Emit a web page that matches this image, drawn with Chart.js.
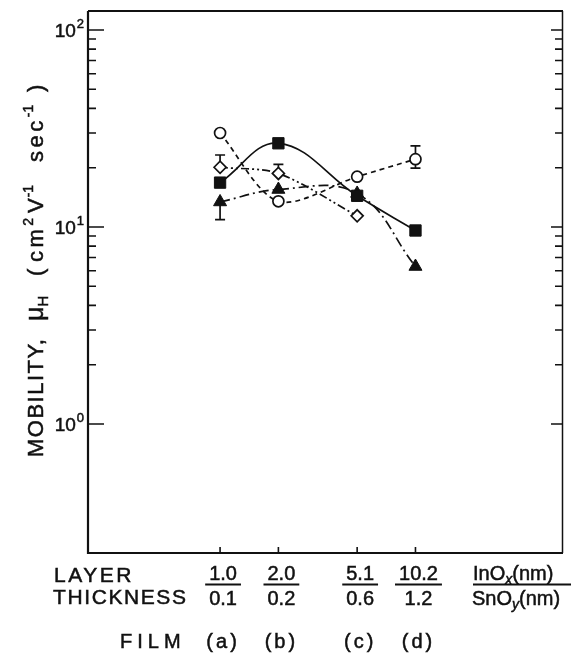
<!DOCTYPE html>
<html>
<head>
<meta charset="utf-8">
<script src="https://cdn.jsdelivr.net/npm/chart.js@4.4.1/dist/chart.umd.min.js"></script>
<style>
  html, body { margin: 0; padding: 0; background: #fff; }
  canvas { display: block; }
</style>
</head>
<body>
<canvas id="mobilityChart" width="572" height="653"></canvas>
<script>
// Layer thickness of the films (a)-(d), InOx over SnOy in nm
const inoxThickness = [1.0, 2.0, 5.1, 10.2];
const inoxLabels = ['1.0', '2.0', '5.1', '10.2'];
const snoyLabels = ['0.1', '0.2', '0.6', '1.2'];
const filmLabels = ['(a)', '(b)', '(c)', '(d)'];

// Hall mobility, cm2 V-1 sec-1
const circleMobility = [30.0, 13.5, 18.0, 22.1];
const diamondMobility = [20.1, 18.7, 11.4];
const squareMobility = [16.8, 26.6, 14.4, 9.6];
const triangleMobility = [13.4, 15.5, 14.8, 6.3];

// Error bar ends (null = not drawn)
const circleErrLow = [null, null, null, 19.9];
const circleErrHigh = [null, null, null, 25.8];
const diamondErrLow = [null, null, null];
const diamondErrHigh = [23.2, 20.8, null];
const triangleErrLow = [10.9, null, null, null];
const triangleErrHigh = [null, null, null, null];

const FONT = "'Liberation Sans', Arial, sans-serif";
const INK = '#111';

function points(values) {
    return values.map((v, i) => ({ x: inoxThickness[i], y: v }));
}

// Vertical error bars with caps, drawn under the markers
const errorBars = {
    id: 'errorBars',
    beforeDatasetsDraw(chart) {
        const { ctx, scales: { x, y } } = chart;
        ctx.save();
        ctx.strokeStyle = INK;
        ctx.lineWidth = 1.7;
        chart.data.datasets.forEach(ds => {
            if (!ds.errLow) return;
            ds.data.forEach((p, i) => {
                const lo = ds.errLow[i], hi = ds.errHigh[i];
                if (lo == null && hi == null) return;
                const px = x.getPixelForValue(p.x);
                const y1 = y.getPixelForValue(lo == null ? p.y : lo);
                const y2 = y.getPixelForValue(hi == null ? p.y : hi);
                ctx.beginPath();
                ctx.moveTo(px, y1); ctx.lineTo(px, y2);
                if (lo != null) { ctx.moveTo(px - 5, y1); ctx.lineTo(px + 5, y1); }
                if (hi != null) { ctx.moveTo(px - 5, y2); ctx.lineTo(px + 5, y2); }
                ctx.stroke();
            });
        });
        ctx.restore();
    }
};

// filled text with a thin stroke, the scan is heavier than regular weight
function inkText(ctx, t, x, y) {
    ctx.fillText(t, x, y);
    ctx.strokeText(t, x, y);
}

// draw a run of text pieces left to right, returns end x
function drawRun(ctx, x0, base, pieces) {
    let cx = x0;
    pieces.forEach(p => {
        ctx.font = (p.style || '') + ' ' + p.size + 'px ' + FONT;
        ctx.letterSpacing = (p.ls || 0) + 'px';
        inkText(ctx, p.t, cx, base + (p.dy || 0));
        cx += ctx.measureText(p.t).width + (p.gap || 0);
    });
    ctx.letterSpacing = '0px';
    return cx;
}

// Frame, log ticks, and all the axis text
const frameAndLabels = {
    id: 'frameAndLabels',
    afterDraw(chart) {
        const { ctx, chartArea: a, scales: { x, y } } = chart;
        ctx.save();
        ctx.strokeStyle = INK;
        ctx.fillStyle = INK;

        // frame
        ctx.lineWidth = 2.2;
        ctx.beginPath();
        ctx.moveTo(a.left, a.top); ctx.lineTo(a.left, a.bottom); ctx.lineTo(a.right, a.bottom);
        ctx.moveTo(a.left, a.top); ctx.lineTo(a.right, a.top);
        ctx.stroke();
        ctx.lineWidth = 1.5;
        ctx.beginPath();
        ctx.moveTo(a.right - 0.5, a.top); ctx.lineTo(a.right - 0.5, a.bottom);
        ctx.stroke();

        // y ticks, both sides, pointing inward
        ctx.lineWidth = 1.6;
        ctx.beginPath();
        [1, 10].forEach(dec => {
            for (let m = 1; m <= 9; m++) {
                const py = y.getPixelForValue(m * dec);
                const major = m === 1;
                ctx.moveTo(a.left, py); ctx.lineTo(a.left + (major ? 16 : 8), py);
                ctx.moveTo(a.right, py); ctx.lineTo(a.right - (major ? 12 : 8), py);
            }
        });
        const top = y.getPixelForValue(100);
        ctx.moveTo(a.left, top); ctx.lineTo(a.left + 16, top);
        ctx.moveTo(a.right, top); ctx.lineTo(a.right - 12, top);
        // x ticks at the films
        inoxThickness.forEach(v => {
            const px = x.getPixelForValue(v);
            ctx.moveTo(px, a.bottom); ctx.lineTo(px, a.bottom - 6);
        });
        ctx.stroke();

        ctx.lineWidth = 0.5;
        // y tick labels 10^2, 10^1, 10^0
        ctx.textBaseline = 'alphabetic';
        ctx.textAlign = 'left';
        [[100, '2'], [10, '1'], [1, '0']].forEach(([v, e]) => {
            const py = y.getPixelForValue(v);
            ctx.font = '19px ' + FONT;
            const w1 = ctx.measureText('10').width;
            ctx.font = '13px ' + FONT;
            const w2 = ctx.measureText(e).width;
            const x0 = 84 - w1 - w2 - 1;
            drawRun(ctx, x0, py + 7, [
                { t: '10', size: 19, gap: 1 },
                { t: e, size: 13, dy: -9 }
            ]);
        });

        // y axis title, rotated; each group starts at its distance from the bottom end
        ctx.save();
        ctx.translate(43, 457);
        ctx.rotate(-Math.PI / 2);
        const titleGroups = [
            [0, [{ t: 'MOBILITY,', size: 22, ls: 1.5 }]],
            [136, [{ t: 'μ', size: 25, gap: 0 }, { t: 'H', size: 15, dy: 5 }]],
            [181, [{ t: '(', size: 22 }]],
            [195, [{ t: 'cm', size: 22, ls: 3.5 }, { t: '2', size: 14, dy: -10 }]],
            [244, [{ t: 'V', size: 22, gap: 1 }, { t: '-1', size: 14, dy: -10 }]],
            [295, [{ t: 'sec', size: 22, ls: 3.5 }, { t: '-1', size: 14, dy: -10 }]],
            [365, [{ t: ')', size: 22 }]]
        ];
        titleGroups.forEach(([at, pieces]) => drawRun(ctx, at, 0, pieces));
        ctx.restore();

        // layer thickness fractions
        ctx.textAlign = 'center';
        ctx.font = '20px ' + FONT;
        inoxThickness.forEach((v, i) => {
            const cx = x.getPixelForValue(v) + 3;
            const w = Math.max(ctx.measureText(inoxLabels[i]).width, ctx.measureText(snoyLabels[i]).width) + 8;
            ctx.lineWidth = 0.5;
            inkText(ctx, inoxLabels[i], cx, 580);
            inkText(ctx, snoyLabels[i], cx, 605);
            ctx.lineWidth = 1.8;
            ctx.beginPath();
            ctx.moveTo(cx - w / 2, 584.5); ctx.lineTo(cx + w / 2, 584.5);
            ctx.stroke();
        });
        ctx.textAlign = 'left';
        ctx.lineWidth = 0.5;
        drawRun(ctx, 473, 580, [
            { t: 'InO', size: 20 },
            { t: 'x', size: 14, style: 'italic', dy: 4 },
            { t: '(nm)', size: 20 }
        ]);
        drawRun(ctx, 472, 605, [
            { t: 'SnO', size: 20 },
            { t: 'y', size: 14, style: 'italic', dy: 4 },
            { t: '(nm)', size: 20 }
        ]);
        drawRun(ctx, 54, 582, [{ t: 'LAYER', size: 21, ls: 2.5 }]);
        drawRun(ctx, 53, 604, [{ t: 'THICKNESS', size: 21, ls: 1.6 }]);
        drawRun(ctx, 120, 648, [{ t: 'FILM', size: 20, ls: 5 }]);
        ctx.letterSpacing = '3px';
        ctx.font = '20px ' + FONT;
        ctx.textAlign = 'center';
        filmLabels.forEach((f, i) => {
            inkText(ctx, f, x.getPixelForValue(inoxThickness[i]) + 3, 648);
        });
        ctx.letterSpacing = '0px';
        ctx.lineWidth = 1.8;
        ctx.beginPath();
        ctx.moveTo(473, 584.5); ctx.lineTo(571, 584.5);
        ctx.stroke();
        ctx.restore();
    }
};

const ctx = document.getElementById('mobilityChart').getContext('2d');

new Chart(ctx, {
    type: 'line',
    data: {
        datasets: [
            {
                label: 'square',
                data: points(squareMobility),
                borderColor: INK, borderWidth: 1.7, tension: 0.4,
                pointStyle: 'rect', pointRadius: 8,
                pointBackgroundColor: INK, pointBorderColor: INK, pointBorderWidth: 1
            },
            {
                label: 'triangle',
                data: points(triangleMobility),
                errLow: triangleErrLow, errHigh: triangleErrHigh,
                borderColor: INK, borderWidth: 1.7, tension: 0.4, borderDash: [10, 4, 2, 4],
                pointStyle: 'triangle', pointRadius: 7.5,
                pointBackgroundColor: INK, pointBorderColor: INK, pointBorderWidth: 1
            },
            {
                label: 'circle',
                data: points(circleMobility),
                errLow: circleErrLow, errHigh: circleErrHigh,
                borderColor: INK, borderWidth: 1.7, tension: 0.3, borderDash: [5, 4],
                pointStyle: 'circle', pointRadius: 5.5,
                pointBackgroundColor: '#fff', pointBorderColor: INK, pointBorderWidth: 1.7
            },
            {
                label: 'diamond',
                data: points(diamondMobility),
                errLow: diamondErrLow, errHigh: diamondErrHigh,
                borderColor: INK, borderWidth: 1.7, tension: 0.3, borderDash: [8, 3, 2, 3, 2, 3],
                pointStyle: 'rectRot', pointRadius: 6,
                pointBackgroundColor: '#fff', pointBorderColor: INK, pointBorderWidth: 1.7
            }
        ]
    },
    options: {
        responsive: false,
        animation: false,
        layout: { padding: { left: 88, top: 11, right: 1, bottom: 100 } },
        plugins: {
            legend: { display: false },
            tooltip: { enabled: false }
        },
        scales: {
            x: { type: 'logarithmic', min: 0.2081, max: 58.9, bounds: 'data', display: false },
            y: { type: 'logarithmic', min: 0.2214, max: 124.86, bounds: 'data', display: false }
        }
    },
    plugins: [errorBars, frameAndLabels]
});
</script>
</body>
</html>
